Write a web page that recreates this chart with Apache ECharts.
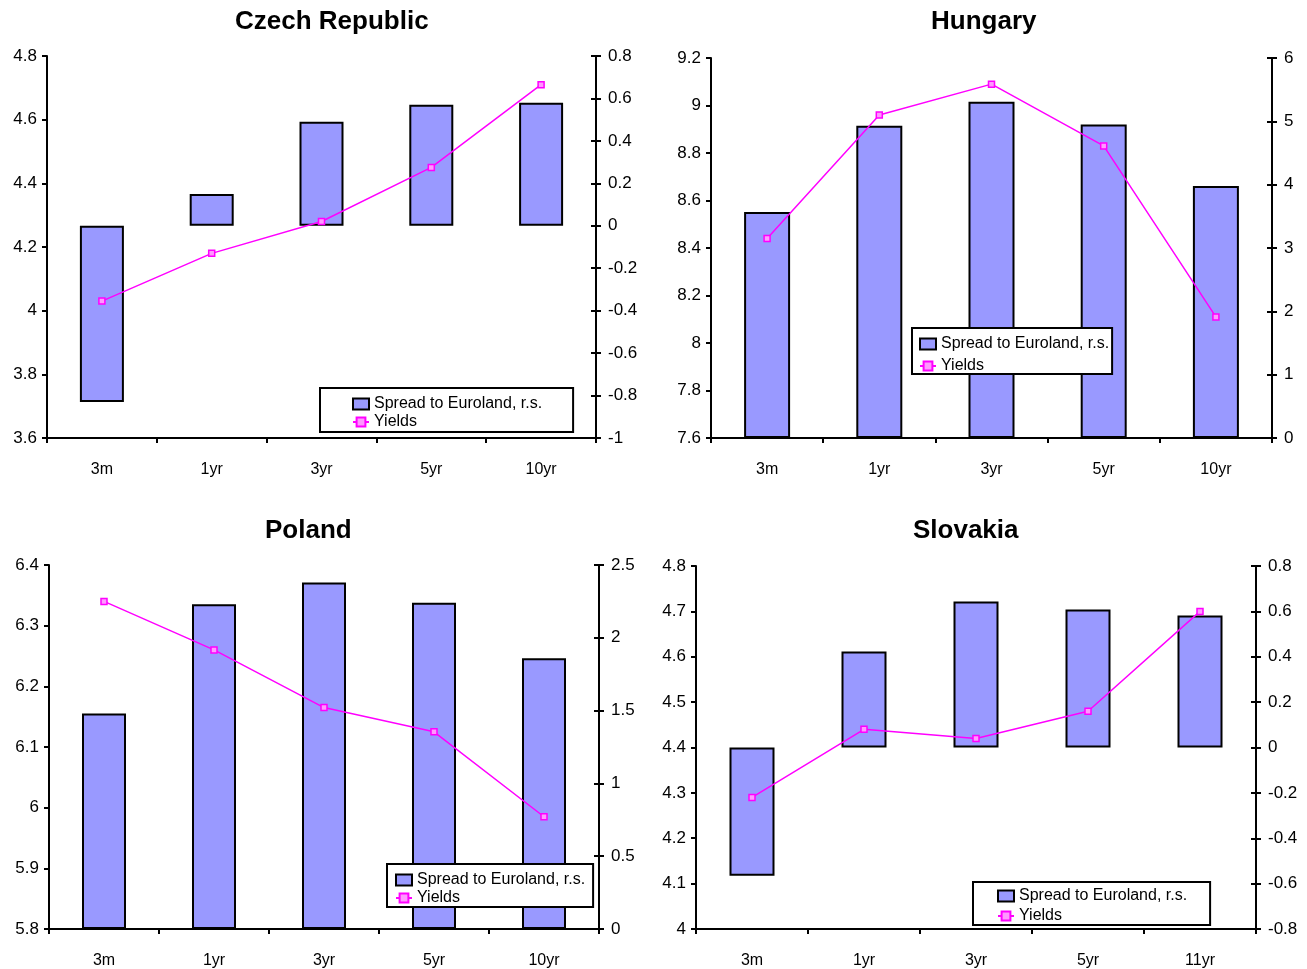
<!DOCTYPE html>
<html>
<head>
<meta charset="utf-8">
<script src="https://cdn.jsdelivr.net/npm/echarts@6/dist/echarts.min.js"></script>
<style>
html,body{margin:0;padding:0;background:#fff;}
#c{width:1307px;height:969px;}
</style>
</head>
<body>
<div id="c"></div>
<script>
// ---- data ----
const titles = ['Czech Republic', 'Hungary', 'Poland', 'Slovakia'];
const categoriesCz = ['3m', '1yr', '3yr', '5yr', '10yr'];
const categoriesHu = ['3m', '1yr', '3yr', '5yr', '10yr'];
const categoriesPl = ['3m', '1yr', '3yr', '5yr', '10yr'];
const categoriesSk = ['3m', '1yr', '3yr', '5yr', '11yr'];

const czSpread = [-0.83, 0.15, 0.49, 0.57, 0.58];
const czYields = [4.03, 4.18, 4.28, 4.45, 4.71];
const huSpread = [3.57, 4.93, 5.31, 4.95, 3.98];
const huYields = [8.44, 8.96, 9.09, 8.83, 8.11];
const plSpread = [1.48, 2.23, 2.38, 2.24, 1.86];
const plYields = [6.34, 6.26, 6.165, 6.125, 5.985];
const skSpread = [-0.565, 0.423, 0.643, 0.608, 0.582];
const skYields = [4.29, 4.44, 4.42, 4.48, 4.70];

// axis ranges [min, max, interval]
const czLeftAxis = [3.6, 4.8, 0.2];
const czRightAxis = [-1, 0.8, 0.2];
const huLeftAxis = [7.6, 9.2, 0.2];
const huRightAxis = [0, 6, 1];
const plLeftAxis = [5.8, 6.4, 0.1];
const plRightAxis = [0, 2.5, 0.5];
const skLeftAxis = [4, 4.8, 0.1];
const skRightAxis = [-0.8, 0.8, 0.2];

const spreadName = 'Spread to Euroland, r.s.';
const yieldName = 'Yields';

// ---- layout ----
const FONT = '"Liberation Sans", Arial, sans-serif';
const panels = [
  {grid:{left:47, right:711, top:56, bottom:531}, cats:categoriesCz, spread:czSpread, yields:czYields, la:czLeftAxis, ra:czRightAxis,
   title:{left:235, top:9}, legend:{left:320, top:388, padding:[8,31,2,32], itemGap:2}, barWidth:44},
  {grid:{left:711, right:35, top:58, bottom:531}, cats:categoriesHu, spread:huSpread, yields:huYields, la:huLeftAxis, ra:huRightAxis,
   title:{left:931, top:9}, legend:{left:912, top:328, padding:[8,3,0,7], itemGap:6}, barWidth:46},
  {grid:{left:49, right:708, top:565, bottom:40}, cats:categoriesPl, spread:plSpread, yields:plYields, la:plLeftAxis, ra:plRightAxis,
   title:{left:265, top:518}, legend:{left:387, top:864, padding:[8,8,1,8], itemGap:2}, barWidth:44},
  {grid:{left:696, right:51, top:566, bottom:40}, cats:categoriesSk, spread:skSpread, yields:skYields, la:skLeftAxis, ra:skRightAxis,
   title:{left:913, top:518}, legend:{left:973, top:882, padding:[6,23,1,24], itemGap:4}, barWidth:45}
];

const grid = [], xAxis = [], yAxis = [], series = [], title = [], legend = [];
const axisLine = {show:true, lineStyle:{color:'#000', width:2}};
const axisTick = {show:true, length:5, lineStyle:{color:'#000', width:2}};
const labelStyle = {color:'#000', fontSize:17, fontFamily:FONT};

panels.forEach((p, i) => {
  grid.push(Object.assign({containLabel:false}, p.grid));
  xAxis.push({type:'category', gridIndex:i, data:p.cats, boundaryGap:true,
    axisLine:Object.assign({onZero:false}, axisLine), axisTick:Object.assign({alignWithLabel:false}, axisTick),
    axisLabel:Object.assign({margin:24, interval:0}, labelStyle, {fontSize:16}), splitLine:{show:false}});
  const li = yAxis.length;
  yAxis.push({type:'value', gridIndex:i, position:'left', min:p.la[0], max:p.la[1], interval:p.la[2],
    axisLine:axisLine, axisTick:axisTick, axisLabel:Object.assign({margin:10}, labelStyle), splitLine:{show:false}});
  const ri = yAxis.length;
  yAxis.push({type:'value', gridIndex:i, position:'right', min:p.ra[0], max:p.ra[1], interval:p.ra[2],
    axisLine:axisLine, axisTick:axisTick, axisLabel:Object.assign({margin:12}, labelStyle), splitLine:{show:false}});
  // inside ticks so right-axis ticks cross the line
  yAxis.push({type:'value', gridIndex:i, position:'right', min:p.ra[0], max:p.ra[1], interval:p.ra[2],
    axisLine:{show:false}, axisTick:{show:true, inside:true, length:5, lineStyle:{color:'#000', width:2}},
    axisLabel:{show:false}, splitLine:{show:false}});
  series.push({name:spreadName, type:'bar', xAxisIndex:i, yAxisIndex:ri, data:p.spread, barWidth:p.barWidth,
    itemStyle:{color:'#9999FF', borderColor:'#000', borderWidth:2}, z:2, animation:false});
  series.push({name:yieldName, type:'line', xAxisIndex:i, yAxisIndex:li, data:p.yields,
    symbol:'rect', symbolSize:6, lineStyle:{color:'#FF00FF', width:1.5},
    itemStyle:{color:'#FF99FF', borderColor:'#FF00FF', borderWidth:1.5}, z:3, animation:false});
  title.push({text:titles[i], left:p.title.left, top:p.title.top, padding:0,
    textStyle:{fontSize:26, fontWeight:'bold', color:'#000', fontFamily:FONT}});
  legend.push({orient:'vertical', left:p.legend.left, top:p.legend.top, padding:p.legend.padding,
    itemGap:p.legend.itemGap, itemWidth:16, itemHeight:11, backgroundColor:'#fff', borderColor:'#000', borderWidth:2,
    borderRadius:0, data:[{name:spreadName, icon:'rect'}, {name:yieldName}], selectedMode:false,
    textStyle:{fontSize:16, color:'#000', fontFamily:FONT, padding:0}, z:10});
});

const chart = echarts.init(document.getElementById('c'), null, {renderer:'canvas'});
chart.setOption({backgroundColor:'#fff', animation:false, title, legend, grid, xAxis, yAxis, series});
</script>
</body>
</html>
